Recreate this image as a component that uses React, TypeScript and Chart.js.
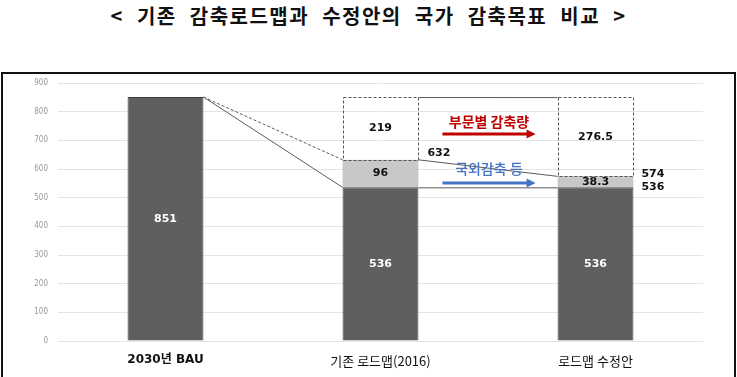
import React, { useEffect, useRef } from "react";
import { Chart, registerables } from "chart.js";

Chart.register(...registerables);

const title = "< 기존 감축로드맵과 수정안의 국가 감축목표 비교 >";
const categories = ["2030년 BAU", "기존 로드맵(2016)", "로드맵 수정안"];
const baseValues = [851, 536, 536];
const overseasValues = [0, 96, 38.3];
const sectorValues = [0, 219, 276.5];
const yTicks = [0, 100, 200, 300, 400, 500, 600, 700, 800, 900];
const sectorArrowLabel = "부문별 감축량";
const overseasArrowLabel = "국외감축 등";
// value-axis levels for the two annotation arrows and their captions
const sectorArrowValue = 722;
const sectorTextValue = 764;
const overseasArrowValue = 551;
const overseasTextValue = 600;

const KR = '"Noto Sans CJK KR", "Noto Sans", sans-serif';
const NUM = '"DejaVu Sans", sans-serif';

function box(meta: any, i: number) {
  const el = meta.data[i];
  const p = el.getProps(["x", "y", "base", "width"], true);
  return {
    left: p.x - p.width / 2,
    right: p.x + p.width / 2,
    top: Math.min(p.y, p.base),
    bottom: Math.max(p.y, p.base),
    cx: p.x,
    cy: (p.y + p.base) / 2,
  };
}

const overlayPlugin = {
  id: "overlay",
  afterDatasetsDraw(chart: any) {
    const ctx = chart.ctx;
    const ys = chart.scales.y;
    const mBase = chart.getDatasetMeta(0);
    const mOver = chart.getDatasetMeta(1);
    const mSect = chart.getDatasetMeta(2);
    const b0 = box(mBase, 0);
    const base1 = box(mBase, 1);
    const base2 = box(mBase, 2);
    const over1 = box(mOver, 1);
    const over2 = box(mOver, 2);
    const sect1 = box(mSect, 1);
    const sect2 = box(mSect, 2);

    ctx.save();
    // connectors
    ctx.lineWidth = 1;
    ctx.strokeStyle = "#5a5a5a";
    ctx.setLineDash([]);
    ctx.beginPath();
    ctx.moveTo(b0.right, b0.top);
    ctx.lineTo(base1.left, base1.top);
    ctx.moveTo(over1.right, over1.top);
    ctx.lineTo(over2.left, over2.top);
    ctx.moveTo(base1.right, base1.top + 0.5);
    ctx.lineTo(base2.left, base2.top + 0.5);
    ctx.moveTo(sect1.right, sect1.top + 0.5);
    ctx.lineTo(sect2.left, sect2.top + 0.5);
    ctx.stroke();

    ctx.setLineDash([3, 2]);
    ctx.beginPath();
    ctx.moveTo(b0.right, b0.top);
    ctx.lineTo(over1.left, over1.top);
    ctx.stroke();

    // dashed boxes for the sector reductions
    ctx.strokeStyle = "#555";
    [sect1, sect2].forEach((s) => {
      ctx.strokeRect(
        Math.round(s.left) + 0.5,
        Math.round(s.top) + 0.5,
        Math.round(s.right - s.left) - 1,
        Math.round(s.bottom - s.top)
      );
    });
    ctx.setLineDash([]);

    // value labels
    ctx.textAlign = "center";
    ctx.textBaseline = "middle";
    ctx.font = `bold 11px ${NUM}`;
    ctx.fillStyle = "#ffffff";
    for (let i = 0; i < baseValues.length; i++) {
      const b = box(mBase, i);
      ctx.fillText(String(baseValues[i]), b.cx, b.cy);
    }
    ctx.fillStyle = "#111";
    for (let i = 0; i < overseasValues.length; i++) {
      if (!overseasValues[i]) continue;
      const o = box(mOver, i);
      ctx.fillText(String(overseasValues[i]), o.cx, o.cy);
      const s = box(mSect, i);
      ctx.fillText(String(sectorValues[i]), s.cx, s.cy);
    }
    // side totals
    ctx.textAlign = "left";
    const t1 = Math.round(baseValues[1] + overseasValues[1]);
    ctx.fillText(String(t1), over1.right + 9, over1.top - 7);
    const t2 = Math.round(baseValues[2] + overseasValues[2]);
    ctx.fillText(String(t2), over2.right + 8, over2.top - 2);
    ctx.fillText(String(baseValues[2]), over2.right + 8, base2.top);

    // arrows
    const ax0 = base1.right + 24;
    const ax1 = base2.left - 22;
    const arrow = (yv: number, color: string) => {
      const y = ys.getPixelForValue(yv);
      ctx.strokeStyle = color;
      ctx.fillStyle = color;
      ctx.lineWidth = 3;
      ctx.beginPath();
      ctx.moveTo(ax0, y);
      ctx.lineTo(ax1 - 6, y);
      ctx.stroke();
      ctx.beginPath();
      ctx.moveTo(ax1 - 9, y - 4.5);
      ctx.lineTo(ax1, y);
      ctx.lineTo(ax1 - 9, y + 4.5);
      ctx.closePath();
      ctx.fill();
    };
    arrow(sectorArrowValue, "#c00000");
    arrow(overseasArrowValue, "#4472c4");
    ctx.textAlign = "center";
    const mid = (ax0 + ax1) / 2;
    ctx.font = `bold 14px ${KR}`;
    ctx.fillStyle = "#c00000";
    ctx.fillText(sectorArrowLabel, mid, ys.getPixelForValue(sectorTextValue));
    ctx.font = `500 14px ${KR}`;
    ctx.fillStyle = "#4472c4";
    ctx.fillText(overseasArrowLabel, mid, ys.getPixelForValue(overseasTextValue));
    ctx.restore();
  },
};

export default function App() {
  const ref = useRef<HTMLCanvasElement>(null);
  useEffect(() => {
    if (!ref.current) return;
    const chart = new Chart(ref.current, {
      type: "bar",
      data: {
        labels: categories,
        datasets: [
          {
            label: "base",
            data: baseValues,
            backgroundColor: "#5f5f5f",
            borderColor: "#3c3c3c",
            borderWidth: 1,
          },
          {
            label: "overseas",
            data: overseasValues,
            backgroundColor: "#c8c8c8",
            borderColor: "#9a9a9a",
            borderWidth: 1,
          },
          {
            label: "sector",
            data: sectorValues,
            backgroundColor: "rgba(255,255,255,0)",
            borderWidth: 0,
          },
        ],
      },
      options: {
        responsive: false,
        animation: false,
        events: [],
        layout: { padding: { top: 83, right: 34, left: 0, bottom: 0 } },
        datasets: { bar: { categoryPercentage: 1, barPercentage: 0.353 } },
        plugins: { legend: { display: false }, tooltip: { enabled: false } },
        scales: {
          x: {
            stacked: true,
            grid: { display: false, drawTicks: false },
            border: { display: false },
            ticks: {
              padding: 12,
              color: "#111",
              font: (c: any) => ({
                family: c.index === 0 ? '"DejaVu Sans", "Noto Sans CJK KR", sans-serif' : KR,
                size: c.index === 0 ? 12 : 13,
                weight: c.index === 0 ? "bold" : "normal",
              }),
            },
            afterFit: (s: any) => {
              s.height = 36;
            },
          },
          y: {
            stacked: true,
            min: 0,
            max: 900,
            afterBuildTicks: (s: any) => {
              s.ticks = yTicks.map((v) => ({ value: v }));
            },
            grid: { color: "#e4e4e4", drawTicks: false, lineWidth: 1 },
            border: { display: false },
            ticks: {
              padding: 10,
              color: "#999",
              font: { family: '"Liberation Sans Narrow", "DejaVu Sans Condensed", sans-serif', size: 8 },
            },
            afterFit: (s: any) => {
              s.width = 58;
            },
          },
        },
      },
      plugins: [overlayPlugin],
    });
    return () => chart.destroy();
  }, []);

  return (
    <div style={{ position: "fixed", left: 0, top: 0, width: 737, height: 377, background: "#fff", overflow: "hidden" }}>
      <div
        style={{
          position: "absolute",
          left: 0,
          top: 3,
          width: 737,
          textAlign: "center",
          fontFamily: KR,
          fontWeight: "bold",
          fontSize: 20,
          lineHeight: "26px",
          color: "#111",
          letterSpacing: 1.5,
          wordSpacing: 7,
        }}
      >
        {title}
      </div>
      <div
        style={{
          position: "absolute",
          left: 1,
          top: 72,
          width: 731,
          height: 320,
          border: "2px solid #111",
        }}
      />
      <canvas ref={ref} width={737} height={377} style={{ position: "absolute", left: 0, top: 0 }} />
    </div>
  );
}
